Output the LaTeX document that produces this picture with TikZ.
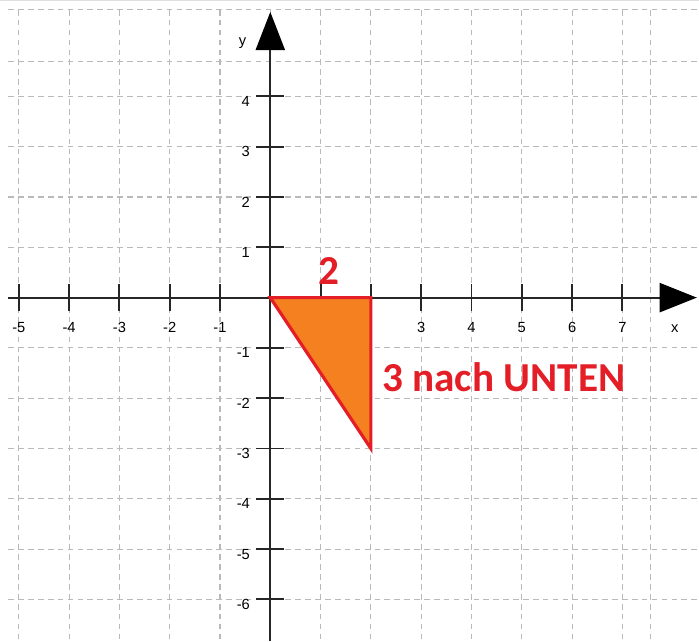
\documentclass[tikz,border=0pt]{standalone}
\usepackage{fontspec}
\setmainfont{Liberation Sans}
\newfontfamily\notefont{Carlito}
\usetikzlibrary{arrows.meta}
\definecolor{shapeorange}{RGB}{245,128,32}
\definecolor{shapered}{RGB}{228,30,38}
\definecolor{gridgray}{RGB}{185,185,185}
\begin{document}
\begin{tikzpicture}[
    gridline/.style={gridgray, line width=0.6pt, dash pattern=on 3.2pt off 2.4pt},
    axisline/.style={black!85, line width=1.1pt},
    ticklabel/.style={font=\fontsize{8.3}{9}\selectfont, inner sep=0pt},
    notelabel/.style={shapered, font=\notefont\bfseries\fontsize{23.3}{28}\selectfont, inner sep=0pt}
]
    % Frame of the picture
    \useasboundingbox (-5.374,-6.827) rectangle (8.523,5.917);
    \draw[gray!25, line width=0.5pt] (-5.374,5.9) -- (8.523,5.9);

    % Grid (gray dashed)
    \foreach \x in {-5,...,7,7.55} \draw[gridline] (\x,5.72) -- (\x,-6.83);
    \foreach \y in {-6,...,4,4.7,5.72} \draw[gridline] (-5.21,\y) -- (8.523,\y);

    % Axes
    \coordinate (xstart) at (-5.21,0);
    \coordinate (xend) at (8.48,0);
    \coordinate (ystart) at (0,-6.83);
    \coordinate (yend) at (0,5.68);
    \draw[axisline, -{Triangle[length=7.4mm,width=5.8mm,color=black,fill=black]}] (xstart) -- (xend);
    \draw[axisline, -{Triangle[length=7.6mm,width=5.8mm,color=black,fill=black]}] (ystart) -- (yend);
    \node[ticklabel, anchor=base] (xlab) at (8.04,-0.685) {x};
    \node[ticklabel, anchor=base] (ylab) at (-0.55,5.02) {y};

    % Ticks and their numbers
    \foreach \x in {-5,...,-1,1,2,...,7} \draw[axisline] (\x,0.27) -- (\x,-0.27);
    \foreach \x in {-5,...,-1,3,4,...,7}
        \node[ticklabel, anchor=base] (xt\x) at (\x,-0.685) {\x};
    \foreach \y in {-6,...,-1,1,2,...,4} {
        \draw[axisline] (-0.28,\y) -- (0.28,\y);
        \node[ticklabel, anchor=base east] (yt\y) at (-0.40,\y-0.2) {\y};
    }

    % Triangle (orange with red border)
    \coordinate (O) at (0,0);
    \coordinate (B) at (2,0);
    \coordinate (C) at (2,-3);
    \filldraw[fill=shapeorange, draw=shapered, line width=1.8pt] (O) -- (B) -- (C) -- cycle;

    % Step labels
    \node[notelabel, anchor=base] (right) at (1.167,0.27) {2};
    \node[notelabel, anchor=base west] (down) at (2.22,-1.86) {3 nach UNTEN};
\end{tikzpicture}
\end{document}
